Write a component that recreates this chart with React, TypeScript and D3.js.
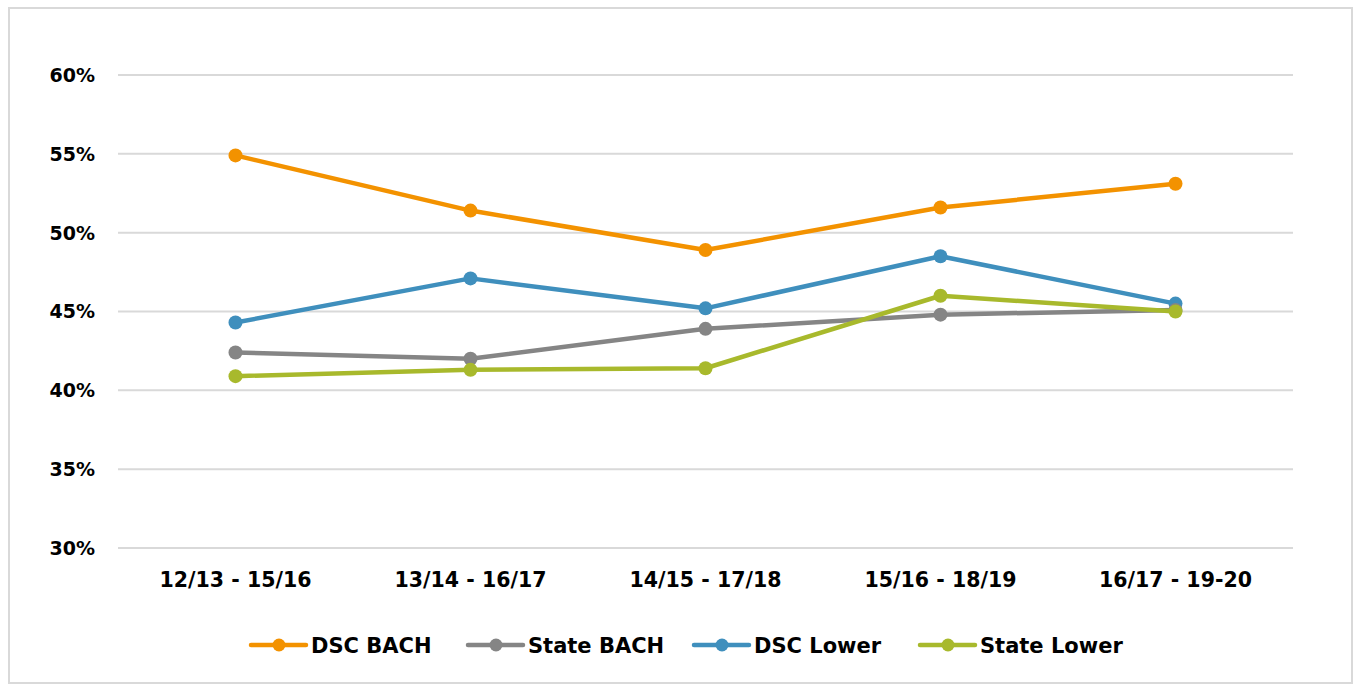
import React from "react";
import * as d3 from "d3";

const periods = ["12/13 - 15/16", "13/14 - 16/17", "14/15 - 17/18", "15/16 - 18/19", "16/17 - 19-20"];
const dscBach = [54.9, 51.4, 48.9, 51.6, 53.1];
const stateBach = [42.4, 42.0, 43.9, 44.8, 45.1];
const dscLower = [44.3, 47.1, 45.2, 48.5, 45.5];
const stateLower = [40.9, 41.3, 41.4, 46.0, 45.0];
const yTicks = [30, 35, 40, 45, 50, 55, 60];

const series = [
  { name: "DSC BACH", values: dscBach, color: "#f39200" },
  { name: "State BACH", values: stateBach, color: "#858585" },
  { name: "DSC Lower", values: dscLower, color: "#3f8fbd" },
  { name: "State Lower", values: stateLower, color: "#a8b92c" },
];
// draw order so State Lower sits on top like the original
const drawOrder = [0, 2, 1, 3];

const W = 1356;
const H = 685;
const FONT = "'DejaVu Sans', sans-serif";

export default function App() {
  const x = d3.scaleBand<string>().domain(periods).range([118, 1293]);
  const y = d3.scaleLinear().domain([30, 60]).range([548, 75]);
  const line = d3
    .line<number>()
    .x((_, i) => (x(periods[i]) as number) + x.bandwidth() / 2)
    .y((v) => y(v));

  const legendX = [251, 468, 694, 920];

  return (
    <svg width={W} height={H} style={{ position: "absolute", left: 0, top: 0 }}>
      <rect x={0} y={0} width={W} height={H} fill="#fff" />
      <rect x={9} y={8} width={1343} height={675} fill="#fff" stroke="#d9d9d9" strokeWidth={2} />
      {yTicks.map((t) => (
        <g key={t}>
          <line x1={118} x2={1293} y1={y(t)} y2={y(t)} stroke="#d9d9d9" strokeWidth={2} />
          <text
            x={95}
            y={y(t)}
            dy="0.36em"
            textAnchor="end"
            fontFamily={FONT}
            fontWeight="bold"
            fontSize={19}
            fill="#000"
          >
            {t}%
          </text>
        </g>
      ))}
      {periods.map((p) => (
        <text
          key={p}
          x={(x(p) as number) + x.bandwidth() / 2}
          y={580}
          dy="0.36em"
          textAnchor="middle"
          fontFamily={FONT}
          fontWeight="bold"
          fontSize={20.5}
          fill="#000"
        >
          {p}
        </text>
      ))}
      {drawOrder.map((si) => {
        const s = series[si];
        return (
          <g key={s.name}>
            <path d={line(s.values) || ""} fill="none" stroke={s.color} strokeWidth={4.5} strokeLinejoin="round" />
            {s.values.map((v, i) => (
              <circle
                key={i}
                cx={(x(periods[i]) as number) + x.bandwidth() / 2}
                cy={y(v)}
                r={7}
                fill={s.color}
              />
            ))}
          </g>
        );
      })}
      {series.map((s, i) => (
        <g key={s.name} transform={`translate(${legendX[i]},645)`}>
          <line x1={0} x2={55} y1={0} y2={0} stroke={s.color} strokeWidth={4.5} strokeLinecap="round" />
          <circle cx={28} cy={0} r={6.5} fill={s.color} />
          <text x={60} y={0} dy="0.36em" fontFamily={FONT} fontWeight="bold" fontSize={21} fill="#000">
            {s.name}
          </text>
        </g>
      ))}
    </svg>
  );
}
